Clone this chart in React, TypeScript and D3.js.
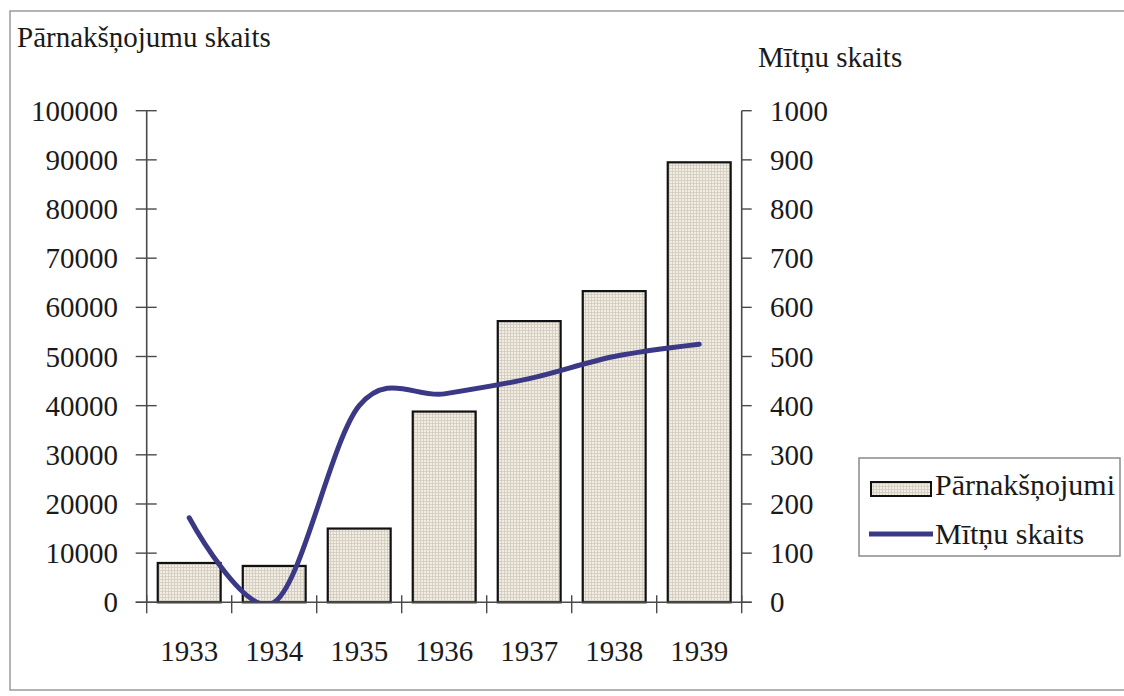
import React from "react";
import * as d3 from "d3";

const years: string[] = ["1933", "1934", "1935", "1936", "1937", "1938", "1939"];
const overnights: number[] = [8000, 7400, 15000, 38800, 57200, 63300, 89500];
const places: number[] = [172, 0, 400, 424, 455, 500, 525];
const leftTicks: number[] = [0, 10000, 20000, 30000, 40000, 50000, 60000, 70000, 80000, 90000, 100000];
const rightTicks: number[] = [0, 100, 200, 300, 400, 500, 600, 700, 800, 900, 1000];
const leftTitle = "Pārnakšņojumu skaits";
const rightTitle = "Mītņu skaits";
const barLegend = "Pārnakšņojumi";
const lineLegend = "Mītņu skaits";

const W = 1124;
const H = 696;
const X0 = 146.7;
const X1 = 741.7;
const Y0 = 602.3;
const Y1 = 110.7;
const FONT = "'Liberation Serif', 'Times New Roman', serif";
const FS = 29;
const LFS = 30;
const LINE_COLOR = "#3b3886";
const AXIS = "#4a4a4a";

export default function App() {
  const x = d3.scaleBand<string>().domain(years).range([X0, X1]).padding(0);
  const yL = d3.scaleLinear().domain([0, 100000]).range([Y0, Y1]);
  const yR = d3.scaleLinear().domain([0, 1000]).range([Y0, Y1]);
  const bw = x.bandwidth() * 0.74;
  const line = d3
    .line<number>()
    .x((_, i) => (x(years[i]) as number) + x.bandwidth() / 2)
    .y((d) => yR(d))
    .curve(d3.curveCardinal.tension(0));
  const boundaries = [...years.map((y) => x(y) as number), X1];

  return (
    <div style={{ position: "absolute", left: 0, top: 0 }}>
      <svg width={W} height={H} style={{ display: "block", background: "#fff" }}>
        <defs>
          <pattern id="grid" width={3} height={3} patternUnits="userSpaceOnUse">
            <rect width={3} height={3} fill="#f1ede3" />
            <path d="M0 0.5H3M0.5 0V3" stroke="#cfcabd" strokeWidth={0.8} />
          </pattern>
          <clipPath id="plot">
            <rect x={X0} y={Y1 - 20} width={X1 - X0} height={Y0 - Y1 + 20} />
          </clipPath>
        </defs>
        {/* outer border */}
        <rect x={10} y={11} width={W} height={679} fill="none" stroke="#9a9a9a" strokeWidth={1.5} />

        {/* titles */}
        <text x={17} y={47} fontFamily={FONT} fontSize={FS} fill="#1a1a1a">{leftTitle}</text>
        <text x={758} y={67} fontFamily={FONT} fontSize={FS} fill="#1a1a1a">{rightTitle}</text>

        {/* bars */}
        {overnights.map((v, i) => {
          const bx = (x(years[i]) as number) + (x.bandwidth() - bw) / 2;
          return (
            <rect key={years[i]} x={bx} y={yL(v)} width={bw} height={Y0 - yL(v)}
              fill="url(#grid)" stroke="#111" strokeWidth={2.2} />
          );
        })}

        {/* left axis */}
        <line x1={X0} x2={X0} y1={Y1} y2={Y0} stroke={AXIS} strokeWidth={1.6} />
        {leftTicks.map((t) => (
          <g key={"l" + t}>
            <line x1={X0 - 11} x2={X0 + 10} y1={yL(t)} y2={yL(t)} stroke={AXIS} strokeWidth={1.4} />
            <text x={118} y={yL(t)} dy="0.35em" textAnchor="end" fontFamily={FONT} fontSize={FS} fill="#1a1a1a">{t}</text>
          </g>
        ))}

        {/* right axis */}
        <line x1={X1} x2={X1} y1={Y1} y2={Y0} stroke={AXIS} strokeWidth={1.6} />
        {rightTicks.map((t) => (
          <g key={"r" + t}>
            <line x1={X1} x2={X1 + 10} y1={yR(t)} y2={yR(t)} stroke={AXIS} strokeWidth={1.4} />
            <text x={770} y={yR(t)} dy="0.35em" textAnchor="start" fontFamily={FONT} fontSize={FS} fill="#1a1a1a">{t}</text>
          </g>
        ))}

        {/* x axis */}
        <line x1={X0 - 11} x2={X1 + 10} y1={Y0} y2={Y0} stroke={AXIS} strokeWidth={1.6} />
        {boundaries.map((b, i) => (
          <line key={"b" + i} x1={b} x2={b} y1={Y0 - 7} y2={Y0 + 11} stroke={AXIS} strokeWidth={1.4} />
        ))}
        {years.map((yr) => (
          <text key={"t" + yr} x={(x(yr) as number) + x.bandwidth() / 2} y={661} textAnchor="middle"
            fontFamily={FONT} fontSize={FS} fill="#1a1a1a">{yr}</text>
        ))}

        {/* line */}
        <g clipPath="url(#plot)">
          <path d={line(places) || ""} fill="none" stroke={LINE_COLOR} strokeWidth={5} strokeLinecap="round" />
        </g>

        {/* legend */}
        <rect x={859} y={458} width={261} height={98} fill="#fff" stroke="#8a8a8a" strokeWidth={1.5} />
        <rect x={871} y={482} width={60} height={14} fill="url(#grid)" stroke="#111" strokeWidth={2} />
        <text x={935} y={495} fontFamily={FONT} fontSize={LFS} fill="#1a1a1a">{barLegend}</text>
        <line x1={869} x2={933} y1={534} y2={534} stroke={LINE_COLOR} strokeWidth={5} />
        <text x={935} y={544} fontFamily={FONT} fontSize={LFS} fill="#1a1a1a">{lineLegend}</text>
      </svg>
    </div>
  );
}
